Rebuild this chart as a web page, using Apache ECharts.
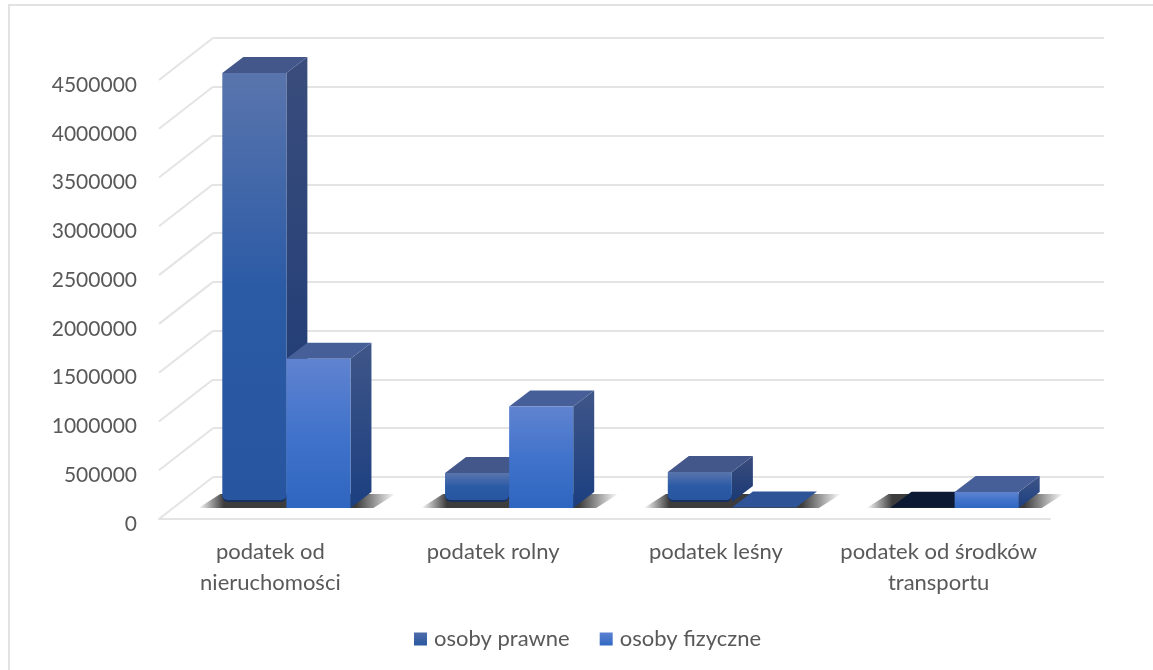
<!DOCTYPE html>
<html><head><meta charset="utf-8">
<style>html,body{margin:0;padding:0;background:#fff}#main{width:1153px;height:670px;filter:blur(0.55px)}</style>
<script src="https://cdn.jsdelivr.net/npm/echarts@6/dist/echarts.min.js"></script>
</head><body><div id="main"></div>
<script>
const categories = ['podatek od\nnieruchomości', 'podatek rolny', 'podatek leśny', 'podatek od środków\ntransportu'];
const osobyPrawne = [4460000, 360000, 370000, 3000];
const osobyFizyczne = [1530000, 1040000, 4000, 165000];
const yTicks = [0, 500000, 1000000, 1500000, 2000000, 2500000, 3000000, 3500000, 4000000, 4500000];
const seriesNames = ['osoby prawne', 'osoby fizyczne'];

const lin = (stops) => ({type:'linear',x:0,y:0,x2:0,y2:1,colorStops:stops.map((c,i)=>({offset:c[0],color:c[1]}))});
const LOOK = [
  { front: lin([[0,'#5a75ad'],[0.5,'#2c5ba6'],[1,'#27559f']]),
    side: lin([[0,'#3a4d7c'],[1,'#1a3975']]), top:'#44578a', flat:'#0d1a33', foot:'#17305f',
    legend: lin([[0,'#4f6cab'],[1,'#2a599f']]) },
  { front: lin([[0,'#6083d0'],[0.5,'#4173cb'],[1,'#2f66c0']]),
    side: lin([[0,'#3f5688'],[1,'#1c3f80']]), top:'#475f98', flat:'#2e5497', foot:null,
    legend: lin([[0,'#5b81d2'],[1,'#3169c2']]) }
];
const shadowFill = {type:'linear',x:0,y:0,x2:1,y2:0,colorStops:[
  {offset:0,color:'rgba(50,50,50,0)'},{offset:0.13,color:'rgba(50,50,50,0.95)'},
  {offset:0.8,color:'rgba(50,50,50,0.95)'},{offset:1,color:'rgba(50,50,50,0)'}]};
const WALL = '#e4e4e4';

function barRenderer(si){
  return function(params, api){
    const idx = api.value(0), val = api.value(1);
    const band = api.size([1,0])[0];
    const w = band*0.2877, dx = 21, dy = -16;
    const base = api.coord([idx,0]), tip = api.coord([idx,val]);
    const cx = base[0]+16, by = base[1]-11, ty = tip[1]-11;
    const L = si===0 ? cx-w : cx, R = L+w;
    const look = LOOK[si];
    const kids = [];
    if(si===0){
      kids.push({type:'polygon',shape:{points:[[L-24,by],[L-2,by-14],[cx+w+45,by-14],[cx+w+23,by]]},style:{fill:shadowFill}});
    }
    const top = {type:'polygon',shape:{points:[[L,ty],[L+dx,ty+dy],[R+dx,ty+dy],[R,ty]]},style:{fill:look.top}};
    if(by-ty < 3){
      top.style.fill = look.flat;
      kids.push(top);
      return {type:'group',children:kids};
    }
    const inset = look.foot ? 6 : 0;
    kids.push({type:'polygon',shape:{points:[[R,ty],[R+dx,ty+dy],[R+dx,by+dy-inset],[R,by-inset]]},style:{fill:look.side}});
    kids.push(top);
    if(look.foot){
      kids.push({type:'rect',shape:{x:L,y:by-inset-8,width:w,height:8,r:[0,0,6,6]},style:{fill:look.foot}});
      kids.push({type:'rect',shape:{x:L,y:ty,width:w,height:by-inset-ty-2,r:[0,0,5,5]},style:{fill:look.front}});
    } else {
      kids.push({type:'rect',shape:{x:L,y:ty,width:w,height:by-ty},style:{fill:look.front}});
    }
    return {type:'group',children:kids};
  };
}

const chart = echarts.init(document.getElementById('main'),null,{renderer:'canvas'});
const TXT = '#595959', FONT = 'Lato';
chart.setOption({
  animation:false,
  backgroundColor:'#ffffff',
  graphic:[
    {type:'line',silent:true,z:-10,shape:{x1:8,y1:5,x2:1153,y2:5},style:{stroke:'#e2e2e2',lineWidth:2}},
    {type:'line',silent:true,z:-10,shape:{x1:9,y1:5,x2:9,y2:670},style:{stroke:'#e2e2e2',lineWidth:2}}
  ],
  legend:{data:seriesNames,left:414,top:628,padding:0,itemWidth:13,itemHeight:13,itemGap:30,selectedMode:false,icon:'rect',
    textStyle:{color:TXT,fontFamily:FONT,fontSize:22,padding:[0,0,0,2]}},
  grid:[{left:159,top:80,width:891,height:439},{left:213,top:38,width:891,height:439}],
  xAxis:[
    {type:'category',gridIndex:0,data:categories,axisTick:{show:false},splitLine:{show:false},
      axisLine:{lineStyle:{color:WALL,width:2}},
      axisLabel:{color:TXT,fontFamily:FONT,fontSize:22,lineHeight:31,margin:17,interval:0}},
    {type:'category',gridIndex:1,data:categories,show:false}
  ],
  yAxis:[
    {type:'value',gridIndex:0,min:0,max:4500000,interval:500000,axisLine:{show:false},axisTick:{show:false},splitLine:{show:false},
      axisLabel:{color:TXT,fontFamily:FONT,fontSize:21,margin:22,verticalAlign:'top',lineHeight:10,formatter:(v)=>String(v)}},
    {type:'value',gridIndex:1,min:0,max:4500000,interval:500000,axisLine:{show:false},axisTick:{show:false},axisLabel:{show:false},
      splitLine:{lineStyle:{color:WALL,width:2}}}
  ],
  series:[
    {type:'custom',name:'sciana',silent:true,z:1,xAxisIndex:0,yAxisIndex:0,data:yTicks.map(v=>[0,v]),
      renderItem:function(params,api){
        const p = api.coord([0,api.value(1)]), x = params.coordSys.x;
        return {type:'line',shape:{x1:x,y1:p[1],x2:x+54,y2:p[1]-42},style:{stroke:WALL,lineWidth:2}};
      }},
    {type:'custom',name:seriesNames[0],silent:true,z:2,xAxisIndex:0,yAxisIndex:0,itemStyle:{color:LOOK[0].legend},
      data:osobyPrawne.map((v,i)=>[i,v]),renderItem:barRenderer(0)},
    {type:'custom',name:seriesNames[1],silent:true,z:3,xAxisIndex:0,yAxisIndex:0,itemStyle:{color:LOOK[1].legend},
      data:osobyFizyczne.map((v,i)=>[i,v]),renderItem:barRenderer(1)}
  ]
});
</script></body></html>
